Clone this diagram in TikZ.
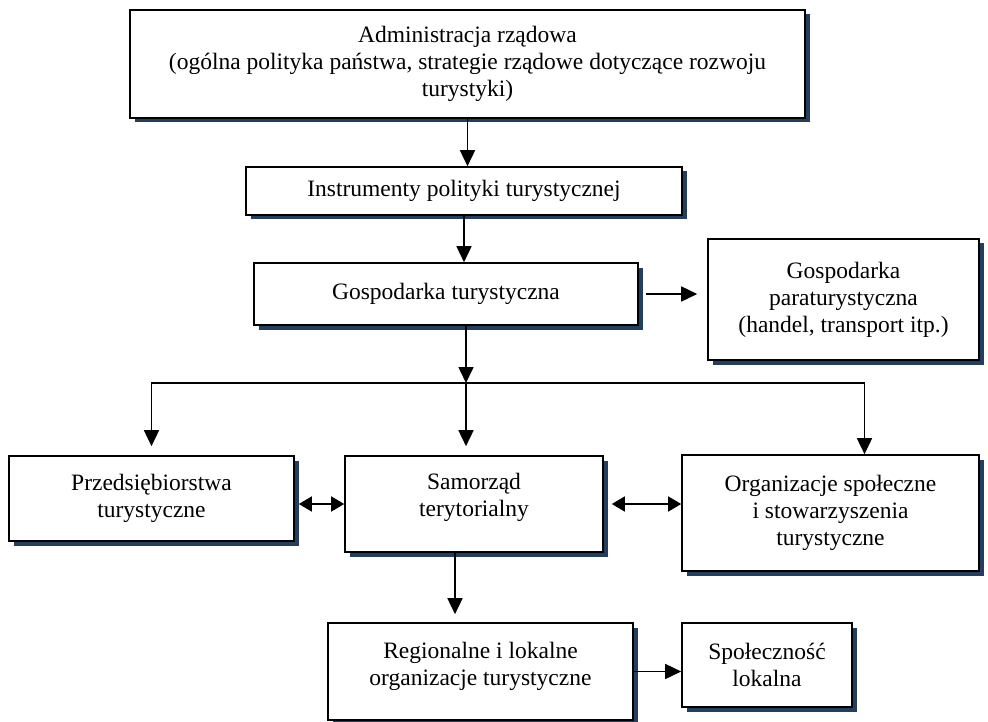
\documentclass[tikz,border=0pt]{standalone}
\usepackage{fontspec}
\setmainfont{Liberation Serif}
\usetikzlibrary{arrows.meta,shadows}
\definecolor{shadowblue}{RGB}{36,62,96}

\begin{document}
\begin{tikzpicture}[x=1pt,y=-1pt,
        box/.style={draw,line width=1.6pt,fill=white,align=center,inner sep=0pt,
            font=\fontsize{23.5}{27}\selectfont,
            drop shadow={shadow xshift=4.5pt,shadow yshift=-4.5pt,fill=shadowblue,opacity=1}},
        link/.style={line width=1.6pt,-{Triangle[length=16pt,width=15pt]}},
        both/.style={line width=1.6pt,{Triangle[length=13pt,width=15pt]}-{Triangle[length=13pt,width=15pt]}}]
        \useasboundingbox (0,0) rectangle (988,722);
        \draw
            (467.5,64) node[box,minimum width=675pt,minimum height=108pt] (admin){Administracja rządowa\\(ogólna polityka państwa, strategie rządowe dotyczące rozwoju\\turystyki)}
            (464,191) node[box,minimum width=436pt,minimum height=48pt] (instr){Instrumenty polityki turystycznej}
            (446,294) node[box,minimum width=384pt,minimum height=62pt] (gosp){Gospodarka turystyczna}
            (843.5,299.5) node[box,minimum width=271pt,minimum height=121pt] (para){Gospodarka\\paraturystyczna\\(handel, transport itp.)}
            (151.5,498.5) node[box,minimum width=285pt,minimum height=85pt] (przeds){Przedsiębiorstwa\\turystyczne}
            (474,504) node[box,minimum width=258pt,minimum height=96pt] (samorz){Samorząd\\terytorialny\\[-9pt]\mbox{}}
            (830.5,513) node[box,minimum width=297pt,minimum height=116pt] (org){Organizacje społeczne\\i stowarzyszenia\\turystyczne}
            (480.5,671.5) node[box,minimum width=305pt,minimum height=97pt] (reg){Regionalne i lokalne\\organizacje turystyczne\\[-11pt]\mbox{}}
            (767,665) node[box,minimum width=170pt,minimum height=84pt] (spol){Społeczność\\lokalna};
        \coordinate (split) at (466,383);
        \begin{scope}[link]
            \draw (admin.south) -- (admin.south |- instr.north);
            \draw (instr.south) -- (instr.south |- gosp.north);
            \draw[shorten <=7pt,shorten >=10pt] (gosp.east) -- (gosp.east -| para.west);
            \draw (gosp.south -| split) -- (split);
            \draw[shorten >=9pt] (split) -| (przeds.north);
            \draw[shorten >=9pt] (split) -- (split |- samorz.north);
            \draw (split) -| ([xshift=34pt]org.north);
            \draw[shorten >=8pt] ([xshift=-19pt]samorz.south) -- ([xshift=-19pt]samorz.south |- reg.north);
            \draw (reg.east) -- (reg.east -| spol.west);
        \end{scope}
        \begin{scope}[both]
            \draw[shorten <=4pt] (przeds.east |- samorz.west) -- (samorz.west);
            \draw[shorten <=8pt] (samorz.east) -- (samorz.east -| org.west);
        \end{scope}
\end{tikzpicture}
\end{document}
